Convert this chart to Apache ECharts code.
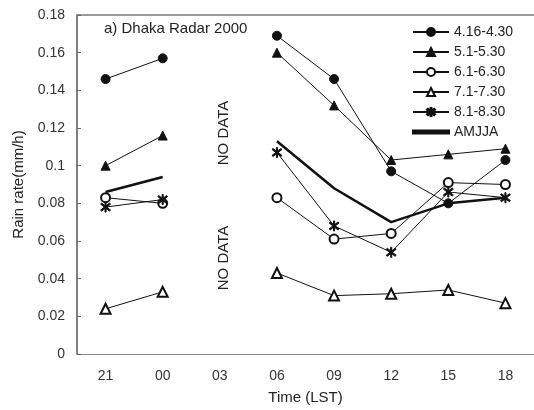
<!DOCTYPE html>
<html>
<head>
<meta charset="utf-8">
<script src="https://cdn.jsdelivr.net/npm/echarts@6/dist/echarts.min.js"></script>
<style>
  html, body { margin: 0; padding: 0; background: #fff; }
  #chart { width: 534px; height: 410px; }
</style>
</head>
<body>
<div id="chart"></div>
<script>
const hours = ['21', '00', '03', '06', '09', '12', '15', '18'];
const names = ['4.16-4.30', '5.1-5.30', '6.1-6.30', '7.1-7.30', '8.1-8.30', 'AMJJA'];
// 03 LST has no data
const apr = [0.146, 0.157, null, 0.169, 0.146, 0.097, 0.080, 0.103];
const may = [0.100, 0.116, null, 0.160, 0.132, 0.103, 0.106, 0.109];
const jun = [0.083, 0.080, null, 0.083, 0.061, 0.064, 0.091, 0.090];
const jul = [0.024, 0.033, null, 0.043, 0.031, 0.032, 0.034, 0.027];
const aug = [0.078, 0.082, null, 0.107, 0.068, 0.054, 0.086, 0.083];
const amjja = [0.086, 0.094, null, 0.113, 0.088, 0.070, 0.080, 0.083];

const font = 'Liberation Sans';
const ink = '#111';
// asterisk marker
const star = 'path://M9 0L11 0L11 20L9 20Z M1 4L3 2L19 16L17 18Z M17 2L19 4L3 18L1 16Z';

const line = (name, data, symbol, size) => ({
  name: name,
  type: 'line',
  data: data,
  symbol: symbol,
  symbolSize: size,
  showAllSymbol: true,
  connectNulls: false,
  lineStyle: { color: ink, width: 1 },
  itemStyle: { color: ink, borderColor: ink, borderWidth: 1 },
  z: 3
});

const noData = y => ({
  type: 'text', x: 224, y: y, rotation: Math.PI / 2,
  style: { text: 'NO DATA', font: '15px "Liberation Sans"', fill: '#222', align: 'center', verticalAlign: 'middle' }
});

const chart = echarts.init(document.getElementById('chart'));
chart.setOption({
  animation: false,
  textStyle: { fontFamily: font },
  title: {
    text: 'a) Dhaka Radar 2000',
    left: 104,
    top: 21,
    padding: 0,
    textStyle: { fontFamily: font, fontSize: 15, fontWeight: 'normal', color: '#222' }
  },
  legend: {
    orient: 'vertical',
    left: 412,
    top: 25,
    padding: 0,
    itemWidth: 36,
    itemHeight: 10,
    itemGap: 6,
    data: names.slice(0, 5).concat([{ name: 'AMJJA', icon: 'path://M0 0L36 0L36 3L0 3Z' }]),
    textStyle: { fontFamily: font, fontSize: 14, color: '#222' }
  },
  grid: { left: 77, right: 0, top: 15, bottom: 56 },
  xAxis: [{
    type: 'category',
    data: hours,
    name: 'Time (LST)',
    nameLocation: 'middle',
    nameGap: 36,
    nameTextStyle: { fontFamily: font, fontSize: 15, color: '#222' },
    axisLine: { lineStyle: { color: '#888', width: 1 } },
    axisTick: { inside: true, length: 4, lineStyle: { color: '#888' } },
    axisLabel: { fontFamily: font, fontSize: 14, color: '#333', margin: 15 }
  }, {
    type: 'category',
    data: hours,
    position: 'top',
    axisLine: { lineStyle: { color: '#999', width: 2 } },
    axisTick: { show: false },
    axisLabel: { show: false }
  }],
  yAxis: {
    type: 'value',
    min: 0,
    max: 0.18,
    interval: 0.02,
    name: 'Rain rate(mm/h)',
    nameLocation: 'middle',
    nameRotate: 90,
    nameGap: 50,
    nameTextStyle: { fontFamily: font, fontSize: 15, color: '#222' },
    axisLine: { show: true, lineStyle: { color: '#555', width: 1.5 } },
    axisTick: { show: true, inside: true, length: 4, lineStyle: { color: '#666' } },
    splitLine: { show: false },
    axisLabel: { fontFamily: font, fontSize: 14, color: '#333', margin: 12 }
  },
  graphic: [noData(133), noData(258)],
  series: [
    line(names[0], apr, 'circle', 9),
    line(names[1], may, 'triangle', 9),
    line(names[2], jun, 'emptyCircle', 9),
    line(names[3], jul, 'emptyTriangle', 10),
    line(names[4], aug, star, 10),
    Object.assign(line(names[5], amjja, 'none', 0), { lineStyle: { color: ink, width: 2.5 }, z: 2 })
  ]
});
</script>
</body>
</html>
